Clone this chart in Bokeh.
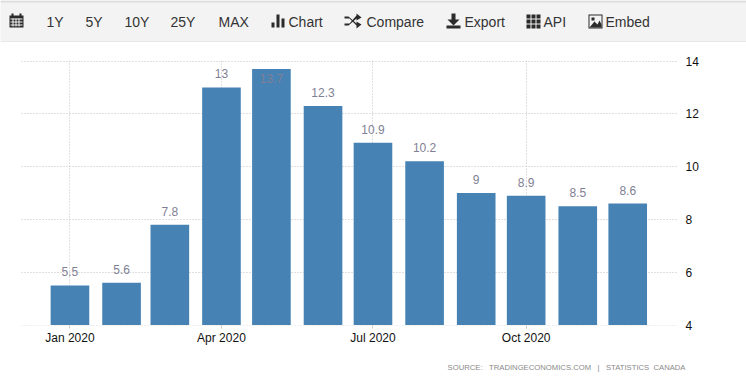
from datetime import datetime
from bokeh.embed import file_html
from bokeh.resources import INLINE
from bokeh.plotting import figure
from bokeh.models import ColumnDataSource, DatetimeTickFormatter, FixedTicker, Range1d
from bokeh.core.properties import value

months = [datetime(2020, m, 1) for m in range(1, 13)]
rates = [5.5, 5.6, 7.8, 13, 13.7, 12.3, 10.9, 10.2, 9, 8.9, 8.5, 8.6]
x_ticks = [datetime(2020, 1, 1), datetime(2020, 4, 1), datetime(2020, 7, 1), datetime(2020, 10, 1)]
y_ticks = [4, 6, 8, 10, 12, 14]
menu_labels = ["1Y", "5Y", "10Y", "25Y", "MAX", "Chart", "Compare", "Export", "API", "Embed"]
menu_x = [46, 85, 124, 170, 218, 288, 366, 464, 543, 605]
NB = "\u00a0"
source_text = f"SOURCE:{NB*3}TRADINGECONOMICS.COM{NB*3}|{NB*3}STATISTICS{NB*2}CANADA"

DAY = 86400000
t0 = datetime(2020, 1, 1).timestamp() * 1000
labels = [f"{v:g}" for v in rates]
top = max(rates)
src = ColumnDataSource(dict(x=months, y=rates, label=labels,
                            off=[14 if v == top else -9 for v in rates]))

# ---- chart ----
HALF = 0.5 / 26.4
p = figure(width=746, height=340, output_backend="svg", toolbar_location=None,
           x_axis_type="datetime", y_axis_location="right",
           x_range=Range1d(t0 - 29.1 * DAY, t0 + 364.9 * DAY), y_range=Range1d(4 - HALF, 14 + HALF),
           min_border_left=21, min_border_right=69, min_border_top=19, min_border_bottom=56,
           outline_line_color=None, background_fill_color="white", border_fill_color="white",
           styles={"position": "absolute", "left": "0px", "top": "41px"})

GRID = "#c0c0c0"
p.xgrid.ticker = FixedTicker(ticks=[d.timestamp() * 1000 for d in x_ticks])
p.ygrid.ticker = FixedTicker(ticks=y_ticks)
for g in (p.xgrid, p.ygrid):
    g.grid_line_color = GRID
    g.grid_line_dash = "1 2"
    g.grid_line_width = 1

p.xaxis.ticker = FixedTicker(ticks=[d.timestamp() * 1000 for d in x_ticks])
p.xaxis.formatter = DatetimeTickFormatter(months="%b %Y", days="%b %Y", hours="%b %Y")
p.xaxis.axis_line_color = None
p.xaxis.major_tick_line_color = "#cccccc"
p.xaxis.major_tick_out = 3
p.xaxis.major_tick_in = 0
p.xaxis.minor_tick_line_color = None
p.xaxis.major_label_standoff = 2
p.xaxis.major_label_text_font = "Liberation Sans"
p.xaxis.major_label_text_font_size = "12px"
p.xaxis.major_label_text_color = "#111111"

p.yaxis.ticker = FixedTicker(ticks=y_ticks)
p.yaxis.axis_line_color = None
p.yaxis.major_tick_line_color = None
p.yaxis.minor_tick_line_color = None
p.yaxis.major_label_standoff = 2
p.yaxis.major_label_text_font = "Liberation Sans"
p.yaxis.major_label_text_font_size = "12px"
p.yaxis.major_label_text_color = "#111111"

p.vbar(x="x", top="y", bottom=4, width=23.2 * DAY, source=src, fill_color="#4682B4", line_color=None)
p.text(x="x", y="y", text="label", source=src, text_align="center", text_baseline="bottom",
       y_offset="off", text_font=value("Liberation Sans"), text_font_size="12px", text_color="#7f7f95")

# ---- source note ----
f = figure(width=300, height=20, output_backend="svg", toolbar_location=None,
           x_range=Range1d(0, 300), y_range=Range1d(20, 0), x_axis_location=None, y_axis_location=None,
           min_border=0, outline_line_color=None, background_fill_color="white", border_fill_color="white",
           styles={"position": "absolute", "left": "390px", "top": "357px"})
f.grid.visible = False
f.text(x=[295], y=[10], text=[source_text], text_align="right", text_baseline="middle",
       text_font=value("Liberation Sans"), text_font_size="7.7px", text_color="#8a8a8a")

# ---- menu bar ----
m = figure(width=746, height=42, output_backend="svg", toolbar_location=None,
           x_range=Range1d(0, 746), y_range=Range1d(42, 0), x_axis_location=None, y_axis_location=None,
           min_border=0, outline_line_color=None, background_fill_color="#f3f3f3",
           border_fill_color="#f3f3f3",
           styles={"position": "absolute", "left": "0px", "top": "0px"})
m.grid.visible = False
BG = "#f3f3f3"
INK = "#2b2b2b"


def box(l, t, r, b, color):
    m.quad(left=l, right=r, top=t, bottom=b, fill_color=color, line_color=None)


def poly(xs, ys, color=INK):
    m.patch(xs, ys, fill_color=color, line_color=None)


box(0, 0, 746, 2, "#dddddd")
box(0, 41, 746, 42, "#dddddd")
# calendar
box(9, 15, 23, 27, INK)
box(11, 13, 13, 16, INK)
box(19, 13, 21, 16, INK)
for yy in (18, 21, 24):
    box(10, yy, 22, yy + 1, BG)
for xx in (12, 15, 18):
    box(xx, 18, xx + 1, 26, BG)
# chart
box(271, 22, 274, 27, INK)
box(276, 14, 279, 27, INK)
box(281, 18, 284, 27, INK)
# shuffle
poly([344, 348, 356, 356, 361, 356, 356, 349, 344], [16, 16, 23, 21, 24, 28, 25, 18, 18])
poly([344, 348, 356, 356, 361, 356, 356, 349, 344], [25, 25, 18, 20, 17, 13, 15, 23, 23])
# export
box(451, 13, 455, 20, INK)
poly([447, 459, 453], [19, 19, 25])
box(446, 25, 460, 28, INK)
# api grid
for xx in (526, 531, 536):
    for yy in (14, 19, 24):
        box(xx, yy, xx + 4, yy + 4, INK)
# embed image
box(588, 14, 602, 28, INK)
box(589, 15, 601, 27, BG)
poly([589, 594, 597, 599, 601, 601, 589], [27, 21, 24, 20, 24, 27, 27])
box(591, 17, 594, 20, INK)

m.text(x=menu_x, y=[21] * len(menu_x), text=menu_labels, text_align="left", text_baseline="middle",
       text_font=value("Liberation Sans"), text_font_size="14px", text_color="#333333")

open("out.html", "w").write(file_html([p, f, m], INLINE))
